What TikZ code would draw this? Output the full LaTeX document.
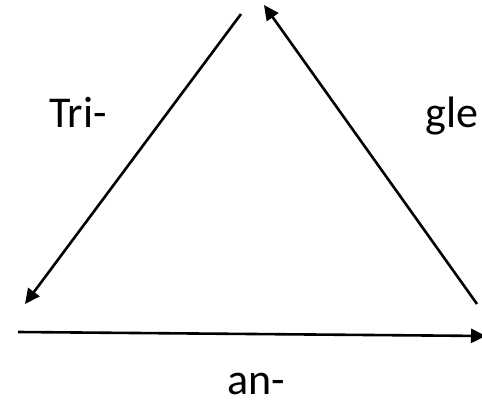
\documentclass[tikz,border=0pt]{standalone}
\usepackage{fontspec}
\setmainfont{Carlito}
\usetikzlibrary{arrows.meta}
\begin{document}
\begin{tikzpicture}[x=1pt,y=-1pt,
  arr/.style={line width=2.6pt,-{Triangle[length=15pt,width=14pt]}},
  lbl/.style={anchor=base,font=\fontsize{44}{52}\selectfont,inner sep=0pt,text depth=0pt}]
\useasboundingbox (0,0) rectangle (482,401);
\coordinate (a1) at (241,14);
\coordinate (b1) at (25,304);
\coordinate (a2) at (477,304);
\coordinate (b2) at (264,5);
\coordinate (a3) at (18,332);
\coordinate (b3) at (486,336);
\draw[arr] (a1) -- (b1);
\draw[arr] (a2) -- (b2);
\draw[arr] (a3) -- (b3);
\node[lbl] (t1) at (78,128) {Tri-};
\node[lbl] (t2) at (452,128) {gle};
\node[lbl] (t3) at (256,394) {an-};
\end{tikzpicture}
\end{document}
